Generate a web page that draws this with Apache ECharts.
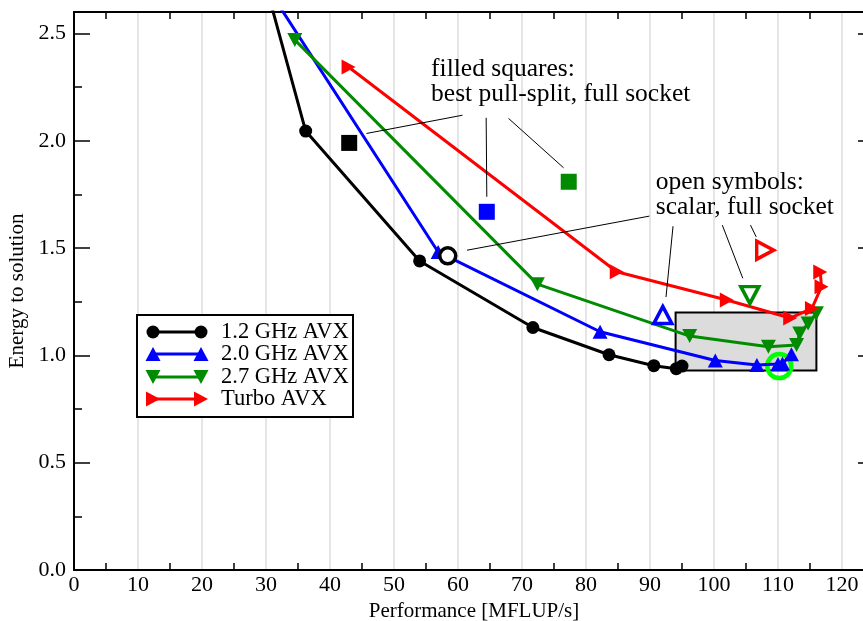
<!DOCTYPE html>
<html>
<head>
<meta charset="utf-8">
<script src="https://cdn.jsdelivr.net/npm/echarts@6/dist/echarts.min.js"></script>
<style>
  html, body { margin: 0; padding: 0; background: #fff; }
  #chart { width: 863px; height: 621px; }
</style>
</head>
<body>
<div id="chart"></div>
<script>
const FONT = '"Liberation Serif", "DejaVu Serif", serif';

// series values (MFLUP/s, energy to solution)
const ghz12X = [26, 36.2, 54.0, 71.7, 83.6, 90.6, 94.1, 95.0];
const ghz12Y = [3.16, 2.045, 1.44, 1.13, 1.003, 0.952, 0.938, 0.95];
const ghz20X = [29, 56.9, 82.2, 100.2, 106.7, 110.0, 110.7, 112.1];
const ghz20Y = [2.77, 1.482, 1.11, 0.976, 0.955, 0.96, 0.962, 1.005];
const ghz27X = [34.5, 72.4, 96.2, 108.5, 112.9, 113.4, 114.7, 116.0];
const ghz27Y = [2.47, 1.332, 1.09, 1.04, 1.048, 1.102, 1.149, 1.196];
const turboX = [42.9, 84.8, 102.0, 111.9, 115.3, 116.8, 116.6];
const turboY = [2.344, 1.39, 1.258, 1.174, 1.219, 1.32, 1.389];

// scalar, full socket (open symbols): 1.2, 2.0, 2.7, turbo
const scalarX = [58.4, 92.0, 105.6, 108.0];
const scalarY = [1.464, 1.188, 1.281, 1.49];
// best pull-split, full socket (filled squares): 1.2, 2.0, 2.7
const pullSplitX = [43.0, 64.5, 77.3];
const pullSplitY = [1.99, 1.669, 1.809];
// highlighted point
const bestX = [110.2];
const bestY = [0.95];
// shaded region
const boxX = [94, 116];
const boxY = [0.93, 1.2];

const seriesNames = ['1.2 GHz AVX', '2.0 GHz AVX', '2.7 GHz AVX', 'Turbo AVX'];
const colors = ['#000000', '#0000ff', '#008b00', '#ff0000'];

const xLabels = [0, 10, 20, 30, 40, 50, 60, 70, 80, 90, 100, 110, 120];
const xMinor = [5, 15, 25, 35, 45, 55, 65, 75, 85, 95, 105, 115];
const yLabels = [0, 0.5, 1.0, 1.5, 2.0, 2.5];
const yMinor = [0.25, 0.75, 1.25, 1.75, 2.25];

// annotation text and leader lines, in data coordinates
const noteFilled = { x: 55.8, y: 2.275, text: 'filled squares:\nbest pull-split, full socket' };
const noteOpen = { x: 90.9, y: 1.749, text: 'open symbols:\nscalar, full socket' };
const leaders = [
  [[60.7, 2.119], [45.7, 2.034]],
  [[64.4, 2.107], [64.5, 1.739]],
  [[67.9, 2.104], [76.5, 1.874]],
  [[89.9, 1.649], [61.4, 1.490]],
  [[93.6, 1.602], [92.5, 1.272]],
  [[101.3, 1.607], [104.5, 1.359]],
  [[105.7, 1.607], [106.6, 1.552]]
];

function pairs(xs, ys) {
  return xs.map((x, i) => [x, ys[i]]);
}

const triSize = [15, 14];
const symbolFor = [
  { symbol: 'circle', symbolSize: 13, symbolRotate: 0 },
  { symbol: 'triangle', symbolSize: triSize, symbolRotate: 0 },
  { symbol: 'triangle', symbolSize: triSize, symbolRotate: 180 },
  { symbol: 'triangle', symbolSize: triSize, symbolRotate: -90 }
];

const lineData = [
  pairs(ghz12X, ghz12Y),
  pairs(ghz20X, ghz20Y),
  pairs(ghz27X, ghz27Y),
  pairs(turboX, turboY)
];

const chart = echarts.init(document.getElementById('chart'), null, { renderer: 'canvas' });

const blackLine = { color: '#000', width: 2 };

function tickAxis(pos, values, len, extra) {
  return Object.assign({
    type: 'value', position: pos, min: 0,
    axisLine: { show: false, onZero: false },
    axisTick: { show: true, inside: true, length: len, customValues: values, lineStyle: { color: '#000', width: 1.5 } },
    axisLabel: { show: false },
    splitLine: { show: false }
  }, extra);
}

const series = [];

// shaded box under everything
series.push({
  type: 'line', name: 'box', data: [], silent: true, z: 1,
  markArea: {
    silent: true,
    itemStyle: { color: '#dcdcdc', borderColor: '#000', borderWidth: 2, opacity: 1 },
    label: { show: false },
    data: [[{ coord: [boxX[0], boxY[0]] }, { coord: [boxX[1], boxY[1]] }]]
  }
});

// highlight ring
series.push({
  type: 'scatter', name: 'best', z: 2,
  data: pairs(bestX, bestY),
  symbol: 'circle', symbolSize: 24,
  itemStyle: { color: 'rgba(0,0,0,0)', borderColor: '#00ff00', borderWidth: 4.5, opacity: 1 }
});

lineData.forEach((d, i) => {
  series.push(Object.assign({
    type: 'line', name: seriesNames[i], data: d, z: 3,
    clip: true, showSymbol: true, showAllSymbol: true,
    lineStyle: { color: colors[i], width: 3 },
    itemStyle: { color: colors[i], opacity: 1 }
  }, symbolFor[i]));
});

// open symbols (scalar)
series.push({
  type: 'scatter', name: 'scalar', z: 4,
  data: scalarX.map((x, i) => ({
    value: [x, scalarY[i]],
    symbol: symbolFor[i].symbol,
    symbolRotate: symbolFor[i].symbolRotate,
    symbolSize: i === 0 ? 16 : [18, 17],
    itemStyle: { color: '#fff', borderColor: colors[i], borderWidth: 3.5, opacity: 1 }
  })),
  markLine: {
    silent: true, symbol: ['none', 'none'], animation: false,
    label: { show: false },
    lineStyle: { color: '#000', width: 1, type: 'solid', opacity: 1 },
    data: leaders.map(l => [{ coord: l[0] }, { coord: l[1] }])
  }
});

// filled squares (pull-split)
series.push({
  type: 'scatter', name: 'pull-split', z: 4,
  data: pullSplitX.map((x, i) => ({
    value: [x, pullSplitY[i]],
    itemStyle: { color: colors[i], opacity: 1 }
  })),
  symbol: 'rect', symbolSize: 16
});

const option = {
  animation: false,
  backgroundColor: '#fff',
  textStyle: { fontFamily: FONT },
  grid: { left: 74, right: -11, top: 12, bottom: 51, outerBoundsMode: 'none' },
  xAxis: [
    {
      type: 'value', position: 'bottom', min: 0, max: 125, interval: 10,
      axisLine: { show: true, onZero: false, lineStyle: blackLine },
      axisTick: { show: false },
      axisLabel: { customValues: xLabels, color: '#000', fontSize: 22, fontFamily: FONT, margin: 4 },
      splitLine: { show: true, lineStyle: { color: '#dcdcdc', width: 1.5 } },
      name: 'Performance [MFLUP/s]', nameLocation: 'middle', nameGap: 24,
      nameTextStyle: { color: '#000', fontSize: 21, fontFamily: FONT }
    },
    tickAxis('bottom', xMinor, 7, { max: 125 }),
    tickAxis('top', xMinor, 7, { max: 125, axisLine: { show: true, onZero: false, lineStyle: blackLine } })
  ],
  yAxis: [
    {
      type: 'value', position: 'left', min: 0, max: 2.6,
      axisLine: { show: true, onZero: false, lineStyle: blackLine },
      axisTick: { show: true, inside: true, length: 16, customValues: yLabels, lineStyle: { color: '#000', width: 1.5 } },
      axisLabel: { customValues: yLabels, formatter: v => v.toFixed(1), color: '#000', fontSize: 22, fontFamily: FONT, margin: 8 },
      splitLine: { show: false },
      name: 'Energy to solution', nameLocation: 'middle', nameGap: 42,
      nameTextStyle: { color: '#000', fontSize: 21, fontFamily: FONT }
    },
    tickAxis('left', yMinor, 8, { max: 2.6 }),
    tickAxis('right', yLabels, 16, { max: 2.6, axisLine: { show: true, onZero: false, lineStyle: blackLine } }),
    tickAxis('right', yMinor, 8, { max: 2.6 })
  ],
  series: series
};

chart.setOption(option);

// legend box drawn by hand: line with a symbol at both ends
function legendSymbol(i, cx, cy) {
  const c = colors[i];
  if (i === 0) return { type: 'circle', shape: { cx: cx, cy: cy, r: 6.5 }, style: { fill: c } };
  let pts;
  if (i === 1) pts = [[cx, cy - 7], [cx + 7.5, cy + 7], [cx - 7.5, cy + 7]];
  else if (i === 2) pts = [[cx - 7.5, cy - 7], [cx + 7.5, cy - 7], [cx, cy + 7]];
  else pts = [[cx - 7, cy - 7.5], [cx + 7, cy], [cx - 7, cy + 7.5]];
  return { type: 'polygon', shape: { points: pts }, style: { fill: c } };
}

const legendRows = [332, 354, 377, 399];
const graphics = [{
  type: 'rect', shape: { x: 137, y: 315, width: 216, height: 102 },
  style: { fill: '#fff', stroke: '#000', lineWidth: 2 }, z: 10
}];
seriesNames.forEach((name, i) => {
  const y = legendRows[i];
  graphics.push({ type: 'line', shape: { x1: 153, y1: y, x2: 201, y2: y }, style: { stroke: colors[i], lineWidth: 3 }, z: 11 });
  graphics.push(Object.assign(legendSymbol(i, 153, y), { z: 12 }));
  graphics.push(Object.assign(legendSymbol(i, 201, y), { z: 12 }));
  graphics.push({
    type: 'text', z: 12,
    style: { text: name, x: 221, y: y, fill: '#000', font: '22.5px ' + FONT, align: 'left', verticalAlign: 'middle' }
  });
});

[noteFilled, noteOpen].forEach(n => {
  const p = chart.convertToPixel({ xAxisIndex: 0, yAxisIndex: 0 }, [n.x, n.y]);
  graphics.push({
    type: 'text', z: 12,
    style: { text: n.text, x: p[0], y: p[1], fill: '#000', font: '25.5px ' + FONT, lineHeight: 25, align: 'left', verticalAlign: 'middle' }
  });
});

chart.setOption({ graphic: graphics });
</script>
</body>
</html>
